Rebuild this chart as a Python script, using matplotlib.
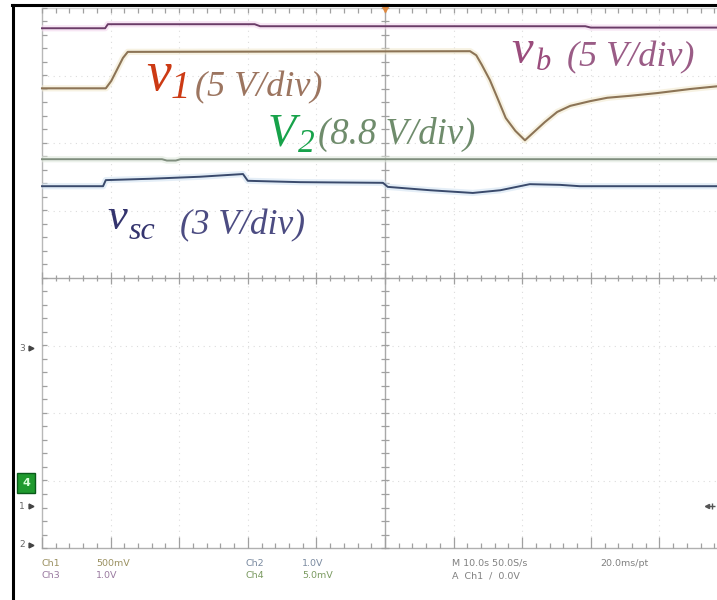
import matplotlib
matplotlib.use('Agg')
import matplotlib.pyplot as plt
from matplotlib.collections import LineCollection
from matplotlib.lines import Line2D
import numpy as np

W, H = 717, 600

# ---- data: time in s (1 s/div), level in screen divisions ----
t_vb = [0, 0.92, 0.96, 3.10, 3.18, 7.92, 8.00, 9.84]
y_vb = [3.70, 3.70, 3.76, 3.76, 3.73, 3.73, 3.71, 3.71]

t_v1 = [0, 0.93, 1.01, 1.09, 1.18, 1.25, 6.24, 6.33, 6.41, 6.53, 6.65, 6.76, 6.90, 7.04,
        7.19, 7.33, 7.51, 7.70, 7.99, 8.24, 8.58, 8.97, 9.45, 9.84]
y_v1 = [2.81, 2.81, 2.92, 3.08, 3.26, 3.35, 3.36, 3.30, 3.16, 2.93, 2.64, 2.37, 2.18, 2.04,
        2.18, 2.31, 2.46, 2.55, 2.62, 2.67, 2.70, 2.74, 2.80, 2.84]

t_v2 = [0, 1.75, 1.82, 1.95, 2.02, 9.84]
y_v2 = [1.76, 1.76, 1.74, 1.74, 1.76, 1.76]

t_vsc = [0, 0.89, 0.93, 1.57, 2.30, 2.93, 3.00, 3.76, 4.97, 5.04, 5.66, 6.28, 6.68, 7.11, 7.55, 7.84, 9.84]
y_vsc = [1.36, 1.36, 1.45, 1.47, 1.50, 1.54, 1.44, 1.42, 1.41, 1.35, 1.30, 1.26, 1.30, 1.39, 1.38, 1.36, 1.36]

status_row1 = [("Ch1", "500mV"), ("Ch2", "1.0V"), ("M 10.0s 50.0S/s", "20.0ms/pt")]
status_row2 = [("Ch3", "1.0V"), ("Ch4", "5.0mV"), ("A  Ch1  /  0.0V", "")]

fig = plt.figure(figsize=(W / 100, H / 100), dpi=100)
ax = fig.add_axes([0, 0, 1, 1])
x0px, xdiv = 42, 68.6
y0px, ydiv = 278, 67.5
ax.set_xlim(-x0px / xdiv, (W - x0px) / xdiv)
ax.set_ylim(-(H - y0px) / ydiv, y0px / ydiv)
ax.axis('off')

def P(px, py):
    return px / W, 1 - py / H

# ---- graticule ----
gcol = '#dcdcdc'
for gx in range(1, 10):
    if gx != 5:
        ax.plot([gx, gx], [-4, 4], color=gcol, lw=0.8, ls=(0, (1, 4)), zorder=1)
for gy in [-3, -2, -1, 1, 2, 3]:
    ax.plot([0, 10], [gy, gy], color=gcol, lw=0.8, ls=(0, (1, 4)), zorder=1)

ax.plot([0, 10], [0, 0], color='#a8a8a8', lw=1.0, zorder=1)
ax.plot([5, 5], [-4, 4], color='#a8a8a8', lw=1.0, zorder=1)
ax.plot([0, 0], [-4, 4], color='#b8b8b8', lw=1.0, zorder=1)
ax.plot([0, 10], [-4, -4], color='#b0b0b0', lw=1.0, zorder=1)
ax.plot([0, 10], [4, 4], color='#d4d4d4', lw=1.0, zorder=1)

segs = []
for k, xv in enumerate(np.arange(0, 10.001, 0.2)):
    L = 0.09 if k % 5 == 0 else 0.05
    segs.append([(xv, -L), (xv, L)])
    segs.append([(xv, -4), (xv, -4 + (0.16 if k % 5 == 0 else 0.07))])
    segs.append([(xv, 4), (xv, 4 - 0.07)])
for k, yv in enumerate(np.arange(-4, 4.001, 0.2)):
    segs.append([(5 - 0.06, yv), (5 + 0.06, yv)])
    segs.append([(0, yv), (0.07, yv)])
ax.add_collection(LineCollection(segs, colors='#a0a0a0', lw=0.9, zorder=1))

# ---- traces (halo + line) ----
def trace(t, y, halo, col, lw=1.4):
    ax.plot(t, y, color=halo, lw=4.5, alpha=0.6, solid_capstyle='butt', zorder=2)
    ax.plot(t, y, color=col, lw=lw, zorder=3)

trace(t_vb, y_vb, '#f3d6ee', '#6b3c68')
trace(t_v1, y_v1, '#f2ead0', '#8c7456', lw=1.5)
trace(t_v2, y_v2, '#dfe9dc', '#808e7e')
trace(t_vsc, y_vsc, '#d3e3f2', '#3a4a6c')

# ---- labels ----
serif = 'Liberation Serif'
def lab(px, py, s, size, color):
    x, y = P(px, py)
    fig.text(x, y, s, fontsize=size, color=color, family=serif, style='italic',
             va='baseline', ha='left', zorder=5)

lab(146, 90, 'v', 40, '#cc3a14')
lab(171, 98, '1', 28, '#cc3a14')
lab(195, 96, '(5 V/div)', 26, '#9c7560')

lab(268, 145, 'V', 33, '#17a24a')
lab(298, 152, '2', 24, '#17a24a')
lab(318, 144, '(8.8 V/div)', 26.5, '#6f8c6c')

lab(107, 229, 'v', 32, '#34346e')
lab(129, 239, 'sc', 23, '#34346e')
lab(180, 234, '(3 V/div)', 25.5, '#4c4c82')

lab(511, 63, 'v', 35, '#9a4c7c')
lab(536, 70, 'b', 22, '#9a4c7c')
lab(567, 66, '(5 V/div)', 26, '#9a5c86')

# ---- status text ----
st = dict(fontsize=6.8, family='DejaVu Sans', va='center', ha='left')
cols1 = ['#9a9060', '#7a8aa0', '#808080']
cols2 = ['#9a7aa0', '#7a9a60', '#808080']
xs = [(42, 96), (245, 302), (452, 600)]
for (a, b), (xa, xb), c in zip(status_row1, xs, cols1):
    fig.text(*P(xa, 563), a, color=c, **st)
    if b:
        fig.text(*P(xb, 563), b, color=c, **st)
for (a, b), (xa, xb), c in zip(status_row2, xs, cols2):
    fig.text(*P(xa, 576), a, color=c, **st)
    if b:
        fig.text(*P(xb, 576), b, color=c, **st)

# ---- channel markers ----
xm = -0.612 + 22 / xdiv
mk = dict(fontsize=6.5, family='DejaVu Sans', va='center', ha='center', color='#666666')
for lvl, s in [(-1.04, '3'), (-3.38, '1'), (-3.95, '2')]:
    ax.text(xm, lvl, s, **mk)
    ax.plot([-0.16], [lvl], marker='>', ms=3.5, color='#444444', zorder=4)
ax.text(-0.612 + 26 / xdiv, -3.04, '4', fontsize=8, family='DejaVu Sans', va='center',
        ha='center', color='#d8ffd8', fontweight='bold',
        bbox=dict(boxstyle='square,pad=0.45', fc='#1f9a2e', ec='#0a5a1a'))
ax.plot([9.76], [-3.38], marker='+', ms=5, color='#555555', zorder=4)
ax.plot([9.70], [-3.38], marker='<', ms=3, color='#555555', zorder=4)

# trigger marker
ax.plot([5], [4.0], marker='v', ms=6, color='#e08a40', zorder=4)

# ---- screen frame ----
fig.add_artist(Line2D([13 / W, 13 / W], [0, 1 - 5 / H], color='black', lw=2.2,
                      transform=fig.transFigure, zorder=10))
fig.add_artist(Line2D([12 / W, 1], [1 - 5 / H, 1 - 5 / H], color='black', lw=2.2,
                      transform=fig.transFigure, zorder=10))

fig.savefig('out.png', dpi=100)
